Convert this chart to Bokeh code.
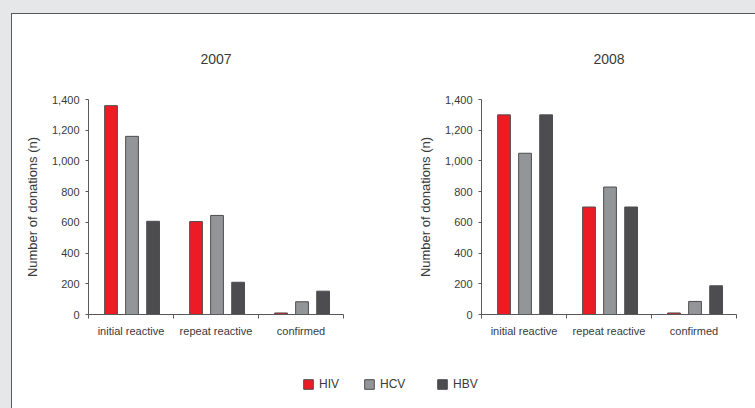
from bokeh.plotting import figure
from bokeh.models import (FactorRange, Range1d, LinearAxis, FixedTicker, Spacer,
                          NumeralTickFormatter, Legend, LegendItem, ColumnDataSource)
from bokeh.transform import dodge
from bokeh.layouts import row, column
from bokeh.embed import file_html
from bokeh.resources import INLINE

# ---- data ----
categories = ["initial reactive", "repeat reactive", "confirmed"]
series = ["HIV", "HCV", "HBV"]
years = ["2007", "2008"]
hiv_2007 = [1360, 605, 10]
hcv_2007 = [1160, 645, 83]
hbv_2007 = [607, 210, 152]
hiv_2008 = [1300, 700, 10]
hcv_2008 = [1050, 830, 85]
hbv_2008 = [1300, 700, 187]
y_ticks = [0, 200, 400, 600, 800, 1000, 1200, 1400]
y_label = "Number of donations (n)"

# ---- styles ----
colors = {"HIV": "#ed1c24", "HCV": "#939598", "HBV": "#4d4d4f"}
offsets = {"HIV": -0.235, "HCV": 0.012, "HBV": 0.26}
FONT = "Liberation Sans"
TEXT = "#3a3a3b"
AXIS = "#58595b"
OUTLINE = "#4d4d4f"
GRAY_BG = "#e6e7e8"


def make_chart(year, data, width, border_right):
    src = ColumnDataSource(dict(cat=categories, **data))
    p = figure(x_range=FactorRange(*categories, range_padding=0),
               y_range=Range1d(0, 1400), width=width, height=346,
               output_backend="svg", toolbar_location=None, x_axis_type=None,
               min_border_left=76, min_border_right=border_right,
               min_border_top=85, min_border_bottom=46, title=year)
    p.outline_line_color = None
    p.grid.visible = False
    p.title.align = "center"
    p.title.text_font = FONT
    p.title.text_font_size = "14px"
    p.title.text_font_style = "normal"
    p.title.text_color = TEXT
    p.title.standoff = 72

    for s in series:
        p.vbar(x=dodge("cat", offsets[s], range=p.x_range), top=s,
               width=0.15, bottom=0, source=src, fill_color=colors[s],
               line_color=OUTLINE, line_width=1)

    yax = p.yaxis[0]
    yax.ticker = FixedTicker(ticks=y_ticks)
    yax.formatter = NumeralTickFormatter(format="0,0")
    yax.major_tick_out = 3
    yax.major_tick_in = 0
    yax.minor_tick_out = 0
    yax.minor_tick_in = 0
    yax.axis_line_color = AXIS
    yax.major_tick_line_color = AXIS
    yax.major_label_text_font = FONT
    yax.major_label_text_font_size = "11px"
    yax.major_label_text_color = TEXT
    yax.major_label_standoff = 6
    yax.axis_label = y_label
    yax.axis_label_text_font = FONT
    yax.axis_label_text_font_size = "13px"
    yax.axis_label_text_font_style = "normal"
    yax.axis_label_text_color = TEXT
    yax.axis_label_standoff = 9

    # x axis on the factor range's synthetic coordinates: labels at centres,
    # tick marks at the category boundaries
    n = len(categories)
    xax = LinearAxis(ticker=FixedTicker(ticks=[i + 0.5 for i in range(n)],
                                        minor_ticks=list(range(n + 1))),
                     major_label_overrides={i + 0.5: c for i, c in enumerate(categories)})
    xax.major_tick_out = 0
    xax.major_tick_in = 0
    xax.minor_tick_out = 4
    xax.minor_tick_in = 0
    xax.axis_line_color = AXIS
    xax.minor_tick_line_color = AXIS
    xax.major_label_text_font = FONT
    xax.major_label_text_font_size = "11px"
    xax.major_label_text_color = TEXT
    xax.major_label_standoff = 6
    p.add_layout(xax, "below")
    return p


p1 = make_chart(years[0], dict(HIV=hiv_2007, HCV=hcv_2007, HBV=hbv_2007), 393, 62)
p2 = make_chart(years[1], dict(HIV=hiv_2008, HCV=hcv_2008, HBV=hbv_2008), 350, 19)

# legend strip: its bars lie far below the visible y range, only the legend shows
pleg = figure(width=743, height=48, x_range=FactorRange(*categories),
              y_range=Range1d(5000, 5001), x_axis_type=None, y_axis_type=None,
              toolbar_location=None, output_backend="svg", min_border=0)
pleg.outline_line_color = None
pleg.grid.visible = False
leg_src = ColumnDataSource(dict(cat=categories, HIV=hiv_2007, HCV=hcv_2007, HBV=hbv_2007))
leg_x = {"HIV": 290, "HCV": 351, "HBV": 424}
for s in series:
    r = pleg.vbar(x="cat", top=s, bottom=0, width=0.1, source=leg_src,
                  fill_color=colors[s], line_color=OUTLINE)
    lg = Legend(items=[LegendItem(label=s, renderers=[r])],
                location=(leg_x[s], 17), orientation="horizontal",
                padding=0, margin=0, border_line_color=None,
                background_fill_alpha=0, glyph_width=12, glyph_height=12,
                label_height=12, label_standoff=5,
                label_text_font=FONT, label_text_font_size="12px",
                label_text_color=TEXT)
    pleg.add_layout(lg)

content = column(Spacer(width=743, height=1, styles={"background-color": AXIS}),
                 row(p1, p2), pleg)
body = row(Spacer(width=11, height=395, styles={"background-color": GRAY_BG}),
           Spacer(width=1, height=395, styles={"background-color": AXIS}),
           content)
root = column(Spacer(width=755, height=13, styles={"background-color": GRAY_BG}), body)

open("out.html", "w").write(file_html(root, INLINE))
